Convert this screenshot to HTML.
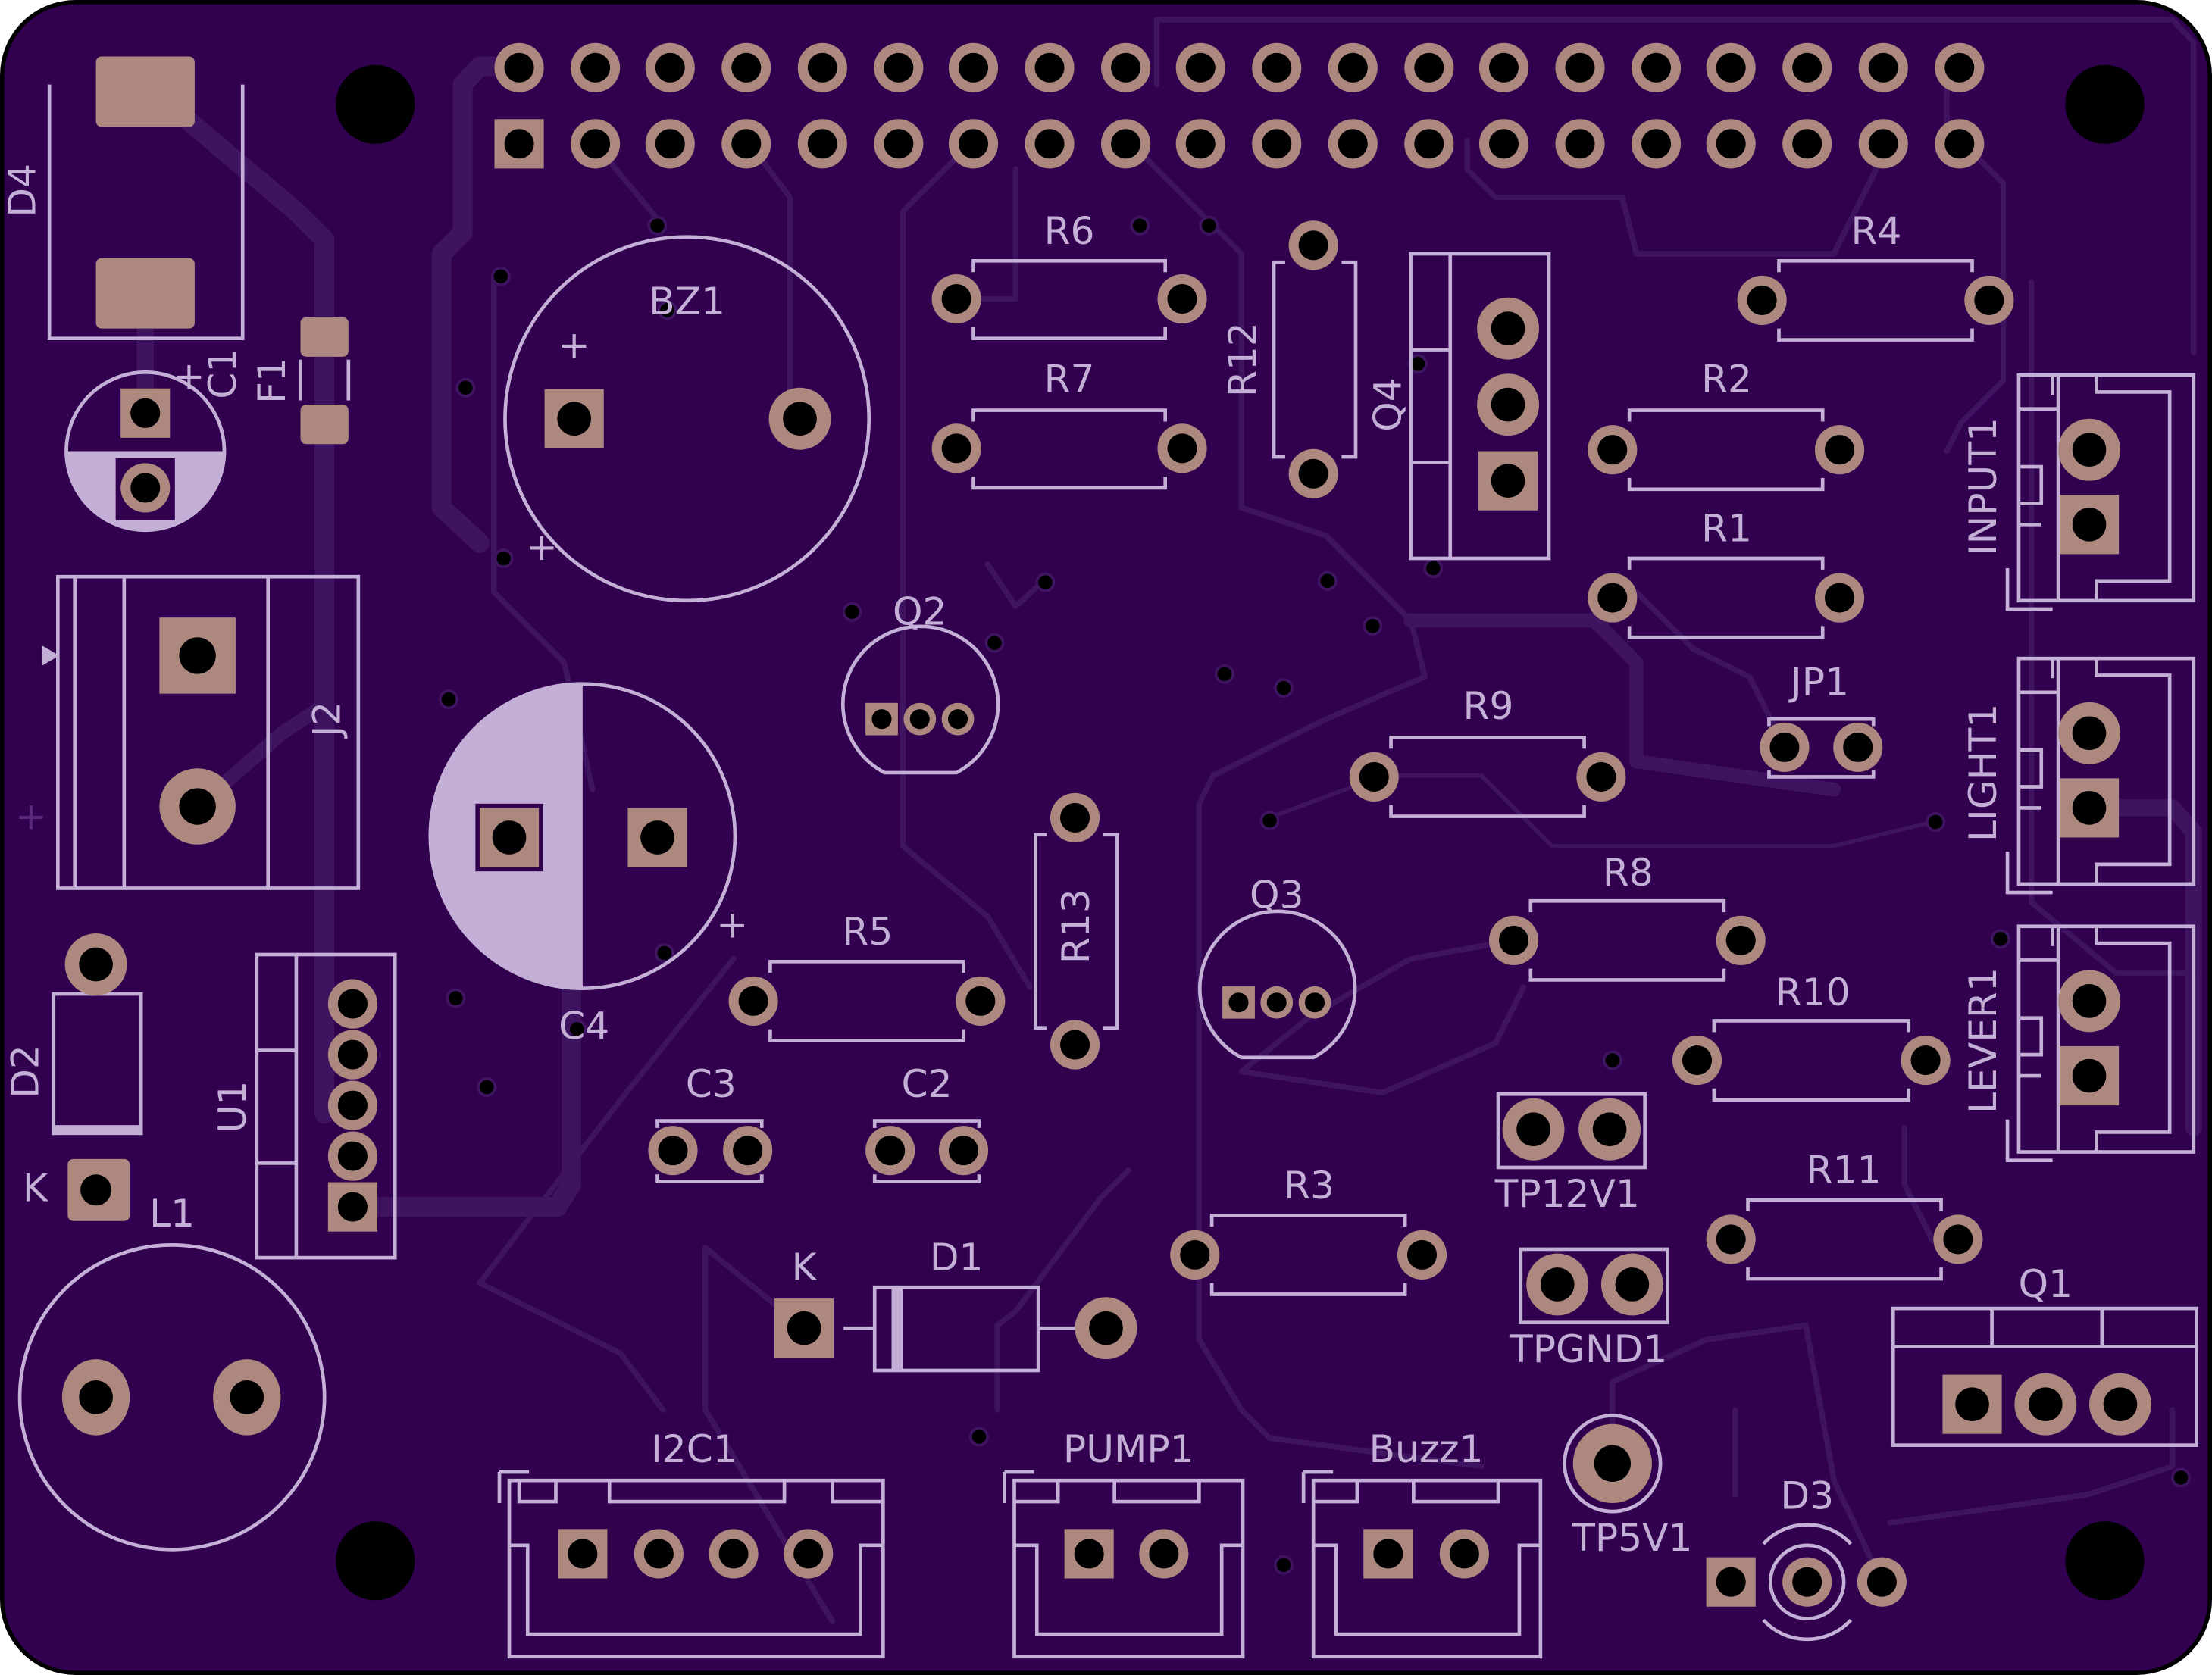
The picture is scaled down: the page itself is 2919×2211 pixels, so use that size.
<!DOCTYPE html>
<html><head><meta charset="utf-8"><style>
html,body{margin:0;padding:0;background:#fff;}
svg{display:block}
text{font-family:"DejaVu Sans","Liberation Sans",sans-serif;fill:#c4b0d6;font-size:27px;text-anchor:middle}
</style></head><body>
<svg width="2919" height="2211" viewBox="0 0 1568 1188" preserveAspectRatio="none" xmlns="http://www.w3.org/2000/svg">
<defs>
<g id="p"><circle r="17.5" fill="#ad887f"/><circle r="10.5" fill="#000"/></g>
<g id="ps"><rect x="-17.5" y="-17.5" width="35" height="35" fill="#ad887f"/><circle r="10.5" fill="#000"/></g>
<g id="pb"><circle r="22" fill="#ad887f"/><circle r="12" fill="#000"/></g>
<g id="pbs"><rect x="-21" y="-21" width="42" height="42" fill="#ad887f"/><circle r="12" fill="#000"/></g>
<g id="v"><circle r="7" fill="#3e1461"/><circle r="5" fill="#000"/></g>
<g id="sp"><circle r="11.5" fill="#ad887f"/><circle r="7" fill="#000"/></g>
<g id="sps"><rect x="-11.5" y="-11.5" width="23" height="23" fill="#ad887f"/><circle r="7" fill="#000"/></g>
</defs>
<rect x="1.5" y="1.5" width="1565" height="1185" rx="52" fill="#31004f" stroke="#000" stroke-width="3"/>
<g fill="none" stroke="#3e1461" stroke-linecap="round" stroke-linejoin="round">
<path d="M350 47 L340 47 L328 60 L328 165 L313 180 L313 360 L340 385" stroke-width="14"/>
<path d="M103 60 L210 150 L230 170 L230 790" stroke-width="14"/>
<path d="M103 210 L103 293" stroke-width="12"/>
<path d="M250 856 L395 856 L405 840 L405 700" stroke-width="14"/>
<path d="M140 572 L200 520 L230 500" stroke-width="10"/>
<path d="M1481 573 L1540 573 L1555 590 L1555 800" stroke-width="12"/>
<path d="M1000 440 L1130 440 L1160 470 L1160 540 L1300 560" stroke-width="10"/>
<path d="M1380 320 L1390 300 L1420 270 L1420 130 L1380 90 L1380 60" stroke-width="4"/>
<path d="M820 60 L820 14 L1540 14 L1555 30 L1555 250" stroke-width="4"/>
<path d="M800 100 L860 160 L880 180 L880 360 L940 380 L1000 440 L1010 480 L940 510 L860 550 L850 570 L850 950 L880 1000 L900 1020 L1050 1040" stroke-width="4"/>
<path d="M420 100 L470 160 M530 100 L560 140 L560 290 M690 100 L640 150 L640 600 L700 650 L730 700" stroke-width="4"/>
<path d="M350 195 L350 420 L400 470 L420 560" stroke-width="4"/>
<path d="M470 1000 L440 960 L380 930 L340 910 L440 780 L520 680" stroke-width="4"/>
<path d="M570 942 L500 885 L500 1000 L590 1150" stroke-width="4"/>
<path d="M707 1000 L707 940 L720 930 L780 850 L800 830" stroke-width="4"/>
<path d="M1143 1038 L1143 980 L1210 950 L1280 940 L1300 1050 L1334 1122" stroke-width="4"/>
<path d="M900 580 L980 550 L1050 550 L1100 600 L1300 600 L1370 583" stroke-width="3"/>
<path d="M1073 667 L1000 680 L930 720 L880 760 L980 775 L1060 740 L1080 700" stroke-width="4"/>
<path d="M1040 100 L1040 120 L1060 140 L1150 140 L1160 180 L1300 180 L1330 120 L1330 100" stroke-width="4"/>
<path d="M1440 200 L1440 430 L1440 640 L1500 690 L1555 690" stroke-width="4"/>
<path d="M1370 880 L1360 860 L1350 840 L1350 800" stroke-width="4"/>
<path d="M1230 1000 L1230 1060 M1540 1000 L1540 1040 L1480 1060 L1340 1080" stroke-width="4"/>
<path d="M1265 530 L1240 480 L1200 460 L1160 420" stroke-width="4"/>
<path d="M680 212 L720 212 L720 120 M700 400 L720 430 L740 412" stroke-width="4"/>
</g>
<g fill="#000"><circle cx="266" cy="74" r="28"/><circle cx="1492" cy="74" r="28"/><circle cx="266" cy="1107" r="28"/><circle cx="1492" cy="1107" r="28"/></g>
<g>
<use href="#v" x="466" y="160"/><use href="#v" x="355" y="196"/><use href="#v" x="330" y="275"/><use href="#v" x="357" y="396"/>
<use href="#v" x="473" y="220"/><use href="#v" x="604" y="434"/><use href="#v" x="705" y="456"/><use href="#v" x="741" y="413"/>
<use href="#v" x="808" y="160"/><use href="#v" x="857" y="160"/><use href="#v" x="1005" y="258"/><use href="#v" x="1016" y="403"/>
<use href="#v" x="941" y="412"/><use href="#v" x="973" y="444"/><use href="#v" x="868" y="478"/><use href="#v" x="910" y="488"/>
<use href="#v" x="318" y="496"/><use href="#v" x="372" y="534"/><use href="#v" x="323" y="708"/><use href="#v" x="345" y="771"/>
<use href="#v" x="471" y="676"/><use href="#v" x="409" y="730"/><use href="#v" x="900" y="582"/><use href="#v" x="1372" y="583"/>
<use href="#v" x="1418" y="666"/><use href="#v" x="1143" y="752"/><use href="#v" x="694" y="1019"/><use href="#v" x="910" y="1110"/>
<use href="#v" x="1546" y="1048"/>
</g>
<g fill="none" stroke="#c4b0d6" stroke-width="2.5">
<path d="M35 60 L35 240 L172 240 L172 60"/>
<circle cx="103" cy="320" r="56"/>
<path d="M213 255 L213 284 M247 255 L247 284"/>
<rect x="41" y="409" width="213" height="221"/><path d="M53 409 V630 M88 409 V630 M190 409 V630"/>
<path d="M38 805 L38 705 L100 705 L100 805"/>
<circle cx="122" cy="991" r="108"/>
<rect x="182" y="677" width="98" height="215"/><path d="M210 677 V892 M182 745 H210 M182 825 H210"/>
<circle cx="413" cy="593" r="108"/>
<circle cx="487" cy="297" r="129"/>
<path d="M627 548 A55 55 0 1 1 678 548 Z"/>
<path d="M880 750 A55 55 0 1 1 931 750 Z"/>
<path d="M690 193 V185 H826 V193 M690 232 V240 H826 V232"/>
<path d="M690 299 V291 H826 V299 M690 338 V346 H826 V338"/>
<path d="M1261 193 V185 H1398 V193 M1261 233 V241 H1398 V233"/>
<path d="M1155 299 V291 H1292 V299 M1155 339 V347 H1292 V339"/>
<path d="M1155 404 V396 H1292 V404 M1155 444 V452 H1292 V444"/>
<path d="M986 531 V523 H1123 V531 M986 571 V579 H1123 V571"/>
<path d="M1085 647 V639 H1222 V647 M1085 687 V695 H1222 V687"/>
<path d="M1215 732 V724 H1353 V732 M1215 772 V780 H1353 V772"/>
<path d="M1239 859 V851 H1376 V859 M1239 899 V907 H1376 V899"/>
<path d="M859 870 V862 H996 V870 M859 910 V918 H996 V910"/>
<path d="M546 690 V682 H683 V690 M546 730 V738 H683 V730"/>
<path d="M911 186 H903 V324 H911 M951 186 H961 V324 H951"/>
<path d="M742 592 H734 V729 H742 M782 592 H792 V729 H782"/>
<rect x="1000" y="180" width="98" height="216"/><path d="M1028 180 V396 M1000 248 H1028 M1000 328 H1028"/>
<path d="M1254 515 V510 H1328 V515 M1254 546 V551 H1328 V546"/>
<path d="M466 800 V795 H540 V800 M466 833 V838 H540 V833"/>
<path d="M620 800 V795 H694 V800 M620 833 V838 H694 V833"/>
<rect x="1062" y="776" width="104" height="52"/>
<rect x="1078" y="886" width="104" height="52"/>
<circle cx="1143" cy="1038" r="34"/>
<rect x="620" y="913" width="116" height="59"/><path d="M598 942 H620 M736 942 H763"/>
<rect x="361" y="1050" width="265" height="125"/><path d="M354 1044 H375 M354 1044 V1066 M368 1050 V1065 H394 V1050 M432 1050 V1065 H556 V1050 M590 1050 V1065 H626 M361 1096 H374 V1159 H610 V1096 H626"/>
<rect x="719" y="1050" width="162" height="125"/><path d="M712 1044 H733 M712 1044 V1066 M719 1065 H750 V1050 M790 1050 V1065 H850 V1050 M719 1096 H735 V1159 H866 V1096 H881"/>
<rect x="931" y="1050" width="161" height="125"/><path d="M924 1044 H945 M924 1044 V1066 M931 1065 H962 V1050 M1002 1050 V1065 H1062 V1050 M931 1096 H947 V1159 H1077 V1096 H1092"/>
<circle cx="1281" cy="1122" r="26"/><path d="M1250 1095 A42 42 0 0 1 1312 1095 M1250 1149 A42 42 0 0 0 1312 1149"/>
<rect x="1342" y="928" width="215" height="97"/><path d="M1342 955 H1557 M1412 928 V955 M1490 928 V955"/>
<g id="conn"><rect x="1431" y="266" width="124" height="160"/><path d="M1431 290 H1459 V266 M1455 266 V280 M1431 331 H1447 V357 H1431 M1431 372 H1447 M1459 266 V426 M1486 266 V278 H1538 V412 H1486 V426 M1423 403 V432 H1455"/></g>
<use href="#conn" y="201"/><use href="#conn" y="391"/>
</g>
<path d="M47 320 A56 56 0 0 0 159 320 Z" fill="#c4b0d6"/>
<rect x="82" y="325" width="42" height="44" fill="#31004f"/>
<path d="M413 485 A108 108 0 0 0 413 701 Z" fill="#c4b0d6"/>
<rect x="337" y="570" width="48" height="48" fill="#31004f"/>
<rect x="38" y="798" width="62" height="7" fill="#c4b0d6"/>
<rect x="632" y="913" width="8" height="59" fill="#c4b0d6"/>
<path d="M30 458 L42 465 L30 472 Z" fill="#c4b0d6"/>
<g>
<use href="#ps" x="368" y="102"/>
<use href="#p" x="368" y="48"/><use href="#p" x="422" y="48"/><use href="#p" x="475" y="48"/><use href="#p" x="529" y="48"/><use href="#p" x="583" y="48"/><use href="#p" x="637" y="48"/><use href="#p" x="690" y="48"/><use href="#p" x="744" y="48"/><use href="#p" x="798" y="48"/><use href="#p" x="851" y="48"/><use href="#p" x="905" y="48"/><use href="#p" x="959" y="48"/><use href="#p" x="1013" y="48"/><use href="#p" x="1066" y="48"/><use href="#p" x="1120" y="48"/><use href="#p" x="1174" y="48"/><use href="#p" x="1227" y="48"/><use href="#p" x="1281" y="48"/><use href="#p" x="1335" y="48"/><use href="#p" x="1389" y="48"/>
<use href="#p" x="422" y="102"/><use href="#p" x="475" y="102"/><use href="#p" x="529" y="102"/><use href="#p" x="583" y="102"/><use href="#p" x="637" y="102"/><use href="#p" x="690" y="102"/><use href="#p" x="744" y="102"/><use href="#p" x="798" y="102"/><use href="#p" x="851" y="102"/><use href="#p" x="905" y="102"/><use href="#p" x="959" y="102"/><use href="#p" x="1013" y="102"/><use href="#p" x="1066" y="102"/><use href="#p" x="1120" y="102"/><use href="#p" x="1174" y="102"/><use href="#p" x="1227" y="102"/><use href="#p" x="1281" y="102"/><use href="#p" x="1335" y="102"/><use href="#p" x="1389" y="102"/>
</g>
<g fill="#ad887f">
<rect x="68" y="40" width="70" height="50" rx="4"/><rect x="68" y="183" width="70" height="50" rx="4"/>
<rect x="213" y="225" width="34" height="28" rx="4"/><rect x="213" y="287" width="34" height="28" rx="4"/>
</g>
<use href="#ps" x="103" y="293"/><use href="#p" x="103" y="346"/>
<g><rect x="113" y="438" width="54" height="54" fill="#ad887f"/><circle cx="140" cy="465" r="13"/><circle cx="140" cy="572" r="27" fill="#ad887f"/><circle cx="140" cy="572" r="13"/></g>
<use href="#pb" x="68" y="684"/><g><rect x="48" y="822" width="44" height="44" rx="4" fill="#ad887f"/><circle cx="68" cy="844" r="11"/></g>
<g><ellipse cx="68" cy="991" rx="24" ry="27" fill="#ad887f"/><circle cx="68" cy="991" r="12"/><ellipse cx="175" cy="991" rx="24" ry="27" fill="#ad887f"/><circle cx="175" cy="991" r="12"/></g>
<g><use href="#p" x="250" y="712"/><use href="#p" x="250" y="748"/><use href="#p" x="250" y="784"/><use href="#p" x="250" y="820"/><use href="#ps" x="250" y="856"/></g>
<use href="#pbs" x="361" y="594"/><use href="#pbs" x="466" y="594"/>
<use href="#pbs" x="407" y="297"/><use href="#pb" x="567" y="297"/>
<use href="#sps" x="625" y="510"/><use href="#sp" x="652" y="510"/><use href="#sp" x="679" y="510"/>
<use href="#sps" x="878" y="711"/><use href="#sp" x="905" y="711"/><use href="#sp" x="932" y="711"/>
<use href="#p" x="678" y="212"/><use href="#p" x="838" y="212"/><use href="#p" x="678" y="318"/><use href="#p" x="838" y="318"/>
<use href="#p" x="931" y="174"/><use href="#p" x="931" y="336"/>
<use href="#pb" x="1069" y="233"/><use href="#pb" x="1069" y="287"/><use href="#pbs" x="1069" y="341"/>
<use href="#p" x="1249" y="213"/><use href="#p" x="1410" y="213"/>
<use href="#p" x="1143" y="319"/><use href="#p" x="1304" y="319"/><use href="#p" x="1143" y="424"/><use href="#p" x="1304" y="424"/>
<use href="#p" x="1265" y="530"/><use href="#p" x="1317" y="530"/>
<use href="#p" x="974" y="551"/><use href="#p" x="1135" y="551"/>
<use href="#p" x="1073" y="667"/><use href="#p" x="1234" y="667"/>
<use href="#p" x="1203" y="752"/><use href="#p" x="1365" y="752"/>
<use href="#p" x="1227" y="879"/><use href="#p" x="1388" y="879"/>
<use href="#p" x="847" y="890"/><use href="#p" x="1008" y="890"/>
<use href="#p" x="534" y="710"/><use href="#p" x="695" y="710"/>
<use href="#p" x="762" y="580"/><use href="#p" x="762" y="741"/>
<use href="#p" x="477" y="816"/><use href="#p" x="530" y="816"/><use href="#p" x="631" y="816"/><use href="#p" x="683" y="816"/>
<use href="#pb" x="1087" y="801"/><use href="#pb" x="1141" y="801"/><use href="#pb" x="1104" y="911"/><use href="#pb" x="1157" y="911"/>
<g><circle cx="1143" cy="1038" r="28" fill="#ad887f"/><circle cx="1143" cy="1038" r="13"/></g>
<use href="#pbs" x="570" y="942"/><use href="#pb" x="784" y="942"/>
<use href="#ps" x="413" y="1102"/><use href="#p" x="467" y="1102"/><use href="#p" x="520" y="1102"/><use href="#p" x="573" y="1102"/>
<use href="#ps" x="772" y="1102"/><use href="#p" x="825" y="1102"/>
<use href="#ps" x="984" y="1102"/><use href="#p" x="1038" y="1102"/>
<use href="#ps" x="1227" y="1122"/><use href="#p" x="1334" y="1122"/><use href="#p" x="1281" y="1122"/>
<use href="#pbs" x="1398" y="996"/><use href="#pb" x="1450" y="996"/><use href="#pb" x="1503" y="996"/>
<use href="#pb" x="1481" y="319"/><use href="#pbs" x="1481" y="372"/>
<use href="#pb" x="1481" y="520"/><use href="#pbs" x="1481" y="573"/>
<use href="#pb" x="1481" y="710"/><use href="#pbs" x="1481" y="763"/>
<g>
<text transform="translate(25 135) rotate(-90)">D4</text>
<text transform="translate(167 265) rotate(-90)">C1</text>
<text x="134" y="276" font-size="22">+</text>
<text transform="translate(202 270) rotate(-90)">F1</text>
<text transform="translate(241 510) rotate(-90)">J2</text>
<text x="22" y="588" font-size="30" style="fill:#5a2a7a">+</text>
<text transform="translate(27 760) rotate(-90)">D2</text>
<text x="25" y="852">K</text>
<text x="122" y="870">L1</text>
<text transform="translate(174 785) rotate(-90)">U1</text>
<text x="414" y="737">C4</text>
<text x="519" y="665">+</text>
<text x="487" y="223">BZ1</text>
<text x="407" y="254">+</text>
<text x="384" y="397">+</text>
<text x="652" y="443">Q2</text>
<text x="905" y="644">Q3</text>
<text x="758" y="173">R6</text>
<text x="758" y="278">R7</text>
<text transform="translate(890 255) rotate(-90)">R12</text>
<text transform="translate(993 287) rotate(-90)">Q4</text>
<text x="1330" y="173">R4</text>
<text x="1224" y="278">R2</text>
<text x="1224" y="384">R1</text>
<text x="1290" y="493">JP1</text>
<text x="1055" y="510">R9</text>
<text x="1154" y="628">R8</text>
<text x="1285" y="713">R10</text>
<text x="1307" y="839">R11</text>
<text x="928" y="850">R3</text>
<text x="615" y="670">R5</text>
<text transform="translate(772 657) rotate(-90)">R13</text>
<text x="504" y="778">C3</text>
<text x="657" y="778">C2</text>
<text x="1111" y="856">TP12V1</text>
<text x="1126" y="966">TPGND1</text>
<text x="1157" y="1100">TP5V1</text>
<text x="678" y="901">D1</text>
<text x="570" y="908">K</text>
<text x="492" y="1037">I2C1</text>
<text x="800" y="1037">PUMP1</text>
<text x="1011" y="1037">Buzz1</text>
<text x="1281" y="1070">D3</text>
<text x="1450" y="920">Q1</text>
<text transform="translate(1415 345) rotate(-90)">INPUT1</text>
<text transform="translate(1415 548) rotate(-90)">LIGHT1</text>
<text transform="translate(1415 738) rotate(-90)">LEVER1</text>
</g>
</svg>
</body></html>
